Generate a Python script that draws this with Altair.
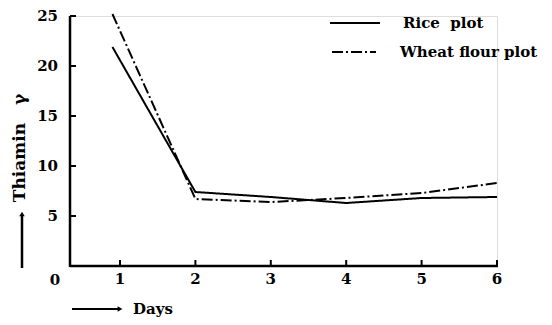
import altair as alt
import pandas as pd

# ---- data ----
days = [0.9, 2, 3, 4, 5, 6]
rice = [21.9, 7.4, 6.9, 6.3, 6.8, 6.9]
wheat = [25.2, 6.7, 6.4, 6.8, 7.3, 8.3]
series_names = ["Rice\u00a0\u00a0plot", "Wheat flour plot"]
x_ticks = [1, 2, 3, 4, 5, 6]
y_ticks = [5, 10, 15, 20, 25]

FONT = "DejaVu Serif"
X_DOMAIN = [0.337, 6]
Y_DOMAIN = [0, 25]

rows = []
for d, r in zip(days, rice):
    rows.append({"day": d, "val": r, "series": series_names[0]})
for d, w in zip(days, wheat):
    rows.append({"day": d, "val": w, "series": series_names[1]})
df = pd.DataFrame(rows)

xs = alt.Scale(domain=X_DOMAIN, nice=False, zero=False)
ys = alt.Scale(domain=Y_DOMAIN, nice=False)

lines = alt.Chart(df).mark_line(color="black", strokeWidth=2).encode(
    x=alt.X("day:Q", scale=xs, axis=None),
    y=alt.Y("val:Q", scale=ys, axis=None),
    strokeDash=alt.StrokeDash("series:N", scale=alt.Scale(domain=series_names, range=[[1, 0], [11, 3, 2, 3]]), legend=None),
    detail="series:N",
)

# hand-drawn axes (domain lines, inward ticks, labels) through the scales
one = alt.Data(values=[{"k": 0}])
x_domain_line = alt.Chart(one).mark_rule(color="black", strokeWidth=2.5).encode(
    x=alt.value(0), x2=alt.value(428), y=alt.value(250))
y_domain_line = alt.Chart(one).mark_rule(color="black", strokeWidth=2.5).encode(
    x=alt.value(0), y=alt.value(0), y2=alt.value(251))

xt_data = alt.Data(values=[{"tx": v} for v in x_ticks])
yt_data = alt.Data(values=[{"ty": v} for v in y_ticks])

xtick_marks = alt.Chart(xt_data).mark_rule(color="black", strokeWidth=2).encode(
    x=alt.X("tx:Q", scale=xs, axis=None), y=alt.value(244), y2=alt.value(250))
ytick_marks = alt.Chart(yt_data).mark_rule(color="black", strokeWidth=2).encode(
    y=alt.Y("ty:Q", scale=ys, axis=None), x=alt.value(0), x2=alt.value(6))

xlabels = alt.Chart(xt_data).mark_text(
    font=FONT, fontSize=15, fontWeight="bold", color="black", align="center", baseline="top"
).encode(x=alt.X("tx:Q", scale=xs, axis=None), y=alt.value(256), text=alt.Text("tx:Q", format="d"))
ylabels = alt.Chart(yt_data).mark_text(
    font=FONT, fontSize=15, fontWeight="bold", color="black", align="right", baseline="middle"
).encode(y=alt.Y("ty:Q", scale=ys, axis=None), x=alt.value(-12), text=alt.Text("ty:Q", format="d"))

# corner zero label
zero = alt.Chart(pd.DataFrame({"s": ["0"]})).mark_text(
    font=FONT, fontSize=15, fontWeight="bold", color="black", align="center", baseline="middle"
).encode(text="s:N", x=alt.value(-15), y=alt.value(264))

# legend
leg = pd.DataFrame({"s": series_names})
leg_rice = alt.Chart(leg.iloc[[0]]).mark_rule(color="black", strokeWidth=2).encode(
    x=alt.value(260), x2=alt.value(310), y=alt.value(7))
leg_wheat = alt.Chart(leg.iloc[[1]]).mark_rule(color="black", strokeWidth=2, strokeDash=[11, 3, 2, 3]).encode(
    x=alt.value(262), x2=alt.value(306), y=alt.value(36))
leg_t1 = alt.Chart(leg.iloc[[0]]).mark_text(
    font=FONT, fontSize=15, fontWeight="bold", color="black", align="left", baseline="middle"
).encode(text="s:N", x=alt.value(333), y=alt.value(7))
leg_t2 = alt.Chart(leg.iloc[[1]]).mark_text(
    font=FONT, fontSize=15, fontWeight="bold", color="black", align="left", baseline="middle"
).encode(text="s:N", x=alt.value(330), y=alt.value(36))

# axis titles with arrows
ytitle = alt.Chart(pd.DataFrame({"s": ["Thiamin\u00a0\u00a0\u00a0γ"]})).mark_text(
    font=FONT, fontSize=17, fontWeight="bold", color="black", angle=270, align="center", baseline="middle"
).encode(text="s:N", x=alt.value(-50), y=alt.value(132))
yarrow = alt.Chart(pd.DataFrame({"s": ["a"]})).mark_rule(color="black", strokeWidth=2.5).encode(
    x=alt.value(-48), y=alt.value(252), y2=alt.value(200))
yhead = alt.Chart(pd.DataFrame({"s": ["a"]})).mark_point(
    shape="triangle-up", filled=True, color="black", size=30, opacity=1
).encode(x=alt.value(-48), y=alt.value(198))
xarrow = alt.Chart(pd.DataFrame({"s": ["a"]})).mark_rule(color="black", strokeWidth=2).encode(
    x=alt.value(2), x2=alt.value(48), y=alt.value(293))
xhead = alt.Chart(pd.DataFrame({"s": ["a"]})).mark_point(
    shape="triangle-right", filled=True, color="black", size=30, opacity=1
).encode(x=alt.value(50), y=alt.value(293))
xtitle = alt.Chart(pd.DataFrame({"s": ["Days"]})).mark_text(
    font=FONT, fontSize=15, fontWeight="bold", color="black", align="left", baseline="middle"
).encode(text="s:N", x=alt.value(63), y=alt.value(293))

chart = alt.layer(
    lines, x_domain_line, y_domain_line, xtick_marks, ytick_marks, xlabels, ylabels,
    zero, leg_rice, leg_wheat, leg_t1, leg_t2,
    ytitle, yarrow, yhead, xarrow, xhead, xtitle
).properties(
    width=427, height=250,
    autosize=alt.AutoSizeParams(type="none"),
    padding={"left": 62, "top": 8, "right": 47, "bottom": 56},
).configure_view(stroke=None).configure(background="white")

chart.save("out.html", embed_options={"renderer": "svg", "actions": False})
